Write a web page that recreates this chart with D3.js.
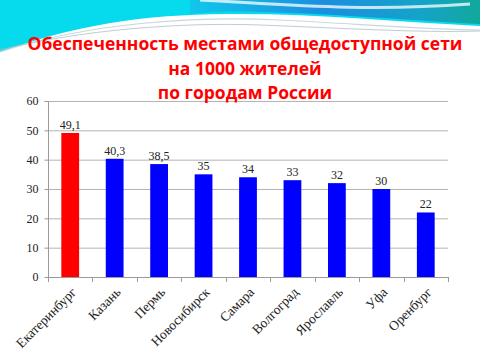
<!DOCTYPE html>
<html><head><meta charset="utf-8">
<script src="https://cdn.jsdelivr.net/npm/d3@7"></script>
<style>html,body{margin:0;padding:0;background:#fff;overflow:hidden}</style>
</head><body>
<svg id="c" width="480" height="360"></svg>
<script>
const categories = ["Екатеринбург","Казань","Пермь","Новосибирск","Самара","Волгоград","Ярославль","Уфа","Оренбург"];
const values = [49.1, 40.3, 38.5, 35, 34, 33, 32, 30, 22];
const valueLabels = ["49,1","40,3","38,5","35","34","33","32","30","22"];
const yTicks = [0,10,20,30,40,50,60];
const titleLines = ["Обеспеченность местами общедоступной сети","на 1000 жителей","по городам России"];

const svg = d3.select("#c");
const defs = svg.append("defs");
const g1 = defs.append("linearGradient").attr("id","gBlue").attr("x1","0").attr("x2","1").attr("y1","0").attr("y2","0");
g1.append("stop").attr("offset","0").attr("stop-color","#10c8ea");
g1.append("stop").attr("offset","0.45").attr("stop-color","#1a8fe0");
g1.append("stop").attr("offset","0.8").attr("stop-color","#15a3c8");
g1.append("stop").attr("offset","1").attr("stop-color","#11a89c");

// decorative header waves
svg.append("path").attr("d","M0,0 H480 V26 C400,22 320,14 240,14 C160,14 90,20 0,52 Z").attr("fill","#06dbee");
svg.append("path").attr("d","M190,0 H480 V24 C420,21 340,14 260,12 C230,11 205,12 190,14 Z").attr("fill","url(#gBlue)");
svg.append("path").attr("d","M200,0 C280,4 360,12 470,4").attr("fill","none").attr("stroke","#ffffff").attr("stroke-opacity",0.75).attr("stroke-width",3);
svg.append("path").attr("d","M0,52 C90,22 200,16 280,20 C360,24 430,30 480,30").attr("fill","none").attr("stroke","#c9d8de").attr("stroke-width",1.2);
svg.append("path").attr("d","M0,50 C80,30 180,22 260,25 C340,28 420,33 480,31").attr("fill","none").attr("stroke","#aebfc7").attr("stroke-width",0.8);

const x0 = 48, x1 = 448, yTop = 101, yBot = 277;
const x = d3.scaleBand().domain(categories).range([x0,x1]).paddingInner(0.6).paddingOuter(0.3);
const xb = d3.scaleBand().domain(categories).range([x0,x1]);
const y = d3.scaleLinear().domain([0,60]).range([yBot,yTop]);

// gridlines
svg.append("g").selectAll("line").data(yTicks.filter(d=>d>0)).join("line")
  .attr("x1",x0).attr("x2",x1).attr("y1",d=>y(d)+0.5).attr("y2",d=>y(d)+0.5)
  .attr("stroke","#b4b4b4").attr("stroke-width",1);

// y axis
const ya = svg.append("g").attr("transform",`translate(${x0+0.5},0)`)
  .call(d3.axisLeft(y).tickValues(yTicks).tickSize(4).tickPadding(6).tickFormat(d3.format("d")));
ya.select(".domain").attr("stroke","#9a9a9a").attr("d",`M-4,${yTop+0.5}H0V${yBot+0.5}`);
ya.selectAll(".tick line").attr("stroke","#9a9a9a");
ya.selectAll(".tick text").attr("font-family","Liberation Serif, serif").attr("font-size",12).attr("fill","#222");

// bars
svg.append("g").selectAll("rect").data(categories).join("rect")
  .attr("x",d=>x(d)).attr("width",x.bandwidth())
  .attr("y",(d,i)=>y(values[i])).attr("height",(d,i)=>yBot-y(values[i]))
  .attr("fill",(d,i)=>i===0?"#ff0000":"#0000ff");

// value labels
svg.append("g").selectAll("text").data(categories).join("text")
  .attr("x",d=>x(d)+x.bandwidth()/2).attr("y",(d,i)=>y(values[i])-4)
  .attr("text-anchor","middle").attr("font-family","Liberation Serif, serif").attr("font-size",12).attr("fill","#222")
  .text((d,i)=>valueLabels[i]);

// x axis
svg.append("line").attr("x1",x0).attr("x2",x1).attr("y1",yBot+0.5).attr("y2",yBot+0.5).attr("stroke","#9a9a9a");
const bounds = [x0].concat(categories.map(c=>xb(c)+xb.bandwidth()));
svg.append("g").selectAll("line").data(bounds).join("line")
  .attr("x1",d=>Math.round(d)+0.5).attr("x2",d=>Math.round(d)+0.5).attr("y1",yBot).attr("y2",yBot+5)
  .attr("stroke","#9a9a9a");
svg.append("g").selectAll("text").data(categories).join("text")
  .attr("transform",d=>`translate(${xb(d)+xb.bandwidth()/2+7},${yBot+16}) rotate(-45)`)
  .attr("text-anchor","end").attr("font-family","Liberation Serif, serif").attr("font-size",13.5).attr("fill","#222")
  .text(d=>d);

// title
svg.append("g").selectAll("text").data(titleLines).join("text")
  .attr("x",245).attr("y",(d,i)=>50+i*24.5)
  .attr("text-anchor","middle").attr("font-family","Open Sans, sans-serif").attr("font-weight","bold")
  .attr("font-size",17.5).attr("fill","#ff0000").text(d=>d);
</script>
</body></html>
